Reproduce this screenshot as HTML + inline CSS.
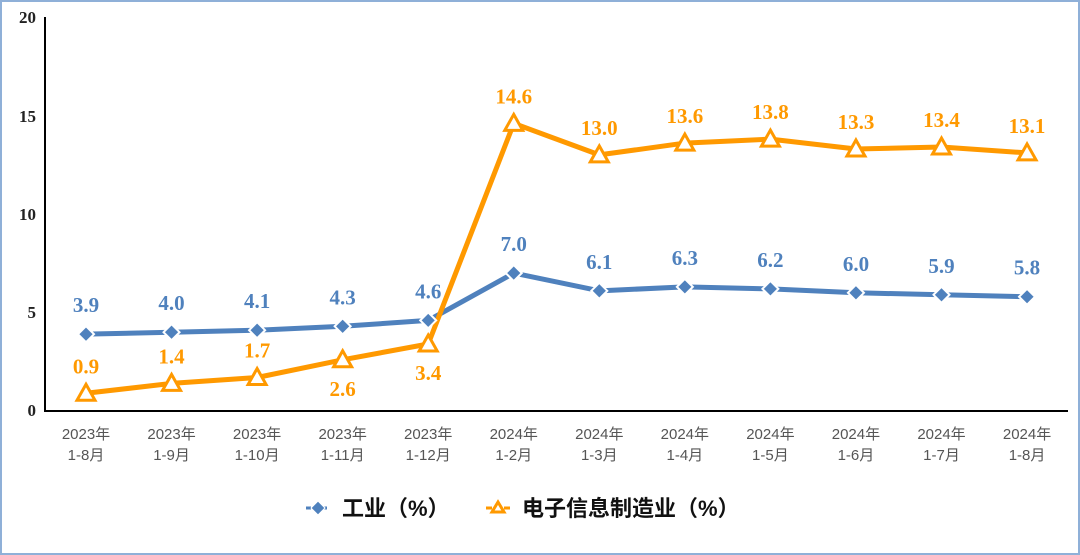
<!DOCTYPE html>
<html><head><meta charset="utf-8"><style>
body{margin:0;background:#fff}
svg{display:block}
.sf{font-family:"Liberation Serif","Noto Serif CJK SC",serif}
.cj{font-family:"Liberation Sans","Noto Sans CJK SC",sans-serif}
</style></head><body>
<svg width="1080" height="555" viewBox="0 0 1080 555" xmlns="http://www.w3.org/2000/svg">
<rect x="1" y="1" width="1078" height="553" fill="#fff" stroke="#8fb0d8" stroke-width="2"/>
<line x1="45" y1="17" x2="45" y2="411" stroke="#000" stroke-width="2"/>
<line x1="44" y1="411" x2="1068" y2="411" stroke="#000" stroke-width="2"/>
<g class="sf" font-size="17" font-weight="bold" text-anchor="end" fill="#222">
<text x="36" y="23">20</text><text x="36" y="122">15</text><text x="36" y="220">10</text><text x="36" y="318">5</text><text x="36" y="416">0</text>
</g>
<g class="cj" font-size="15" fill="#555" text-anchor="middle" id="xl"></g>
<polyline id="bl" fill="none" stroke="#4f81bd" stroke-width="5" stroke-linejoin="round"/>
<polyline id="ol" fill="none" stroke="#ff9900" stroke-width="5" stroke-linejoin="round"/>
<g id="mk"></g>
<g id="lb" class="sf" font-size="21" font-weight="bold" text-anchor="middle"></g>
<line x1="306" y1="508" x2="330" y2="508" stroke="#4f81bd" stroke-width="3" stroke-dasharray="5,3"/>
<path d="M318 501 L325 508 L318 515 L311 508Z" fill="#4f81bd" stroke="#fff" stroke-width="1"/>
<text class="cj" x="342" y="516" font-size="22" fill="#111" font-weight="bold">工业（%）</text>
<line x1="486" y1="508" x2="510" y2="508" stroke="#ff9900" stroke-width="3" stroke-dasharray="6,3"/>
<path d="M498 502 L504 512 L492 512Z" fill="#fff" stroke="#ff9900" stroke-width="3"/>
<text class="cj" x="522" y="516" font-size="22" fill="#111" font-weight="bold">电子信息制造业（%）</text>
</svg>
<script>
const ns="http://www.w3.org/2000/svg";
const xs=[],n=12;for(let i=0;i<n;i++)xs.push(86+i*85.55);
const y=v=>411-19.7*v;
const b=[3.9,4.0,4.1,4.3,4.6,7.0,6.1,6.3,6.2,6.0,5.9,5.8];
const o=[0.9,1.4,1.7,2.6,3.4,14.6,13.0,13.6,13.8,13.3,13.4,13.1];
const xl=["1-8月","1-9月","1-10月","1-11月","1-12月","1-2月","1-3月","1-4月","1-5月","1-6月","1-7月","1-8月"];
function el(t,a,p,txt){const e=document.createElementNS(ns,t);for(const k in a)e.setAttribute(k,a[k]);if(txt)e.textContent=txt;document.getElementById(p).appendChild(e);return e;}
document.getElementById('bl').setAttribute('points',xs.map((x,i)=>x+','+y(b[i])).join(' '));
document.getElementById('ol').setAttribute('points',xs.map((x,i)=>x+','+y(o[i])).join(' '));
xs.forEach((x,i)=>{
 el('text',{x:x,y:439},'xl',(i<5?'2023':'2024')+'年');
 el('text',{x:x,y:460},'xl',xl[i]);
 const yb=y(b[i]);
 el('path',{d:`M${x} ${yb-8} L${x+8} ${yb} L${x} ${yb+8} L${x-8} ${yb}Z`,fill:'#4f81bd',stroke:'#fff','stroke-width':2},'mk');
 const yo=y(o[i]);
 el('path',{d:`M${x} ${yo-9} L${x+9} ${yo+7} L${x-9} ${yo+7}Z`,fill:'#fff',stroke:'#ff9900','stroke-width':3},'mk');
 el('text',{x:x,y:yb-22,fill:'#4f81bd'},'lb',b[i].toFixed(1));
 const below=(i==3||i==4);
 el('text',{x:x,y:below?yo+36:yo-20,fill:'#ff9900'},'lb',o[i].toFixed(1));
});
</script>
</body></html>
